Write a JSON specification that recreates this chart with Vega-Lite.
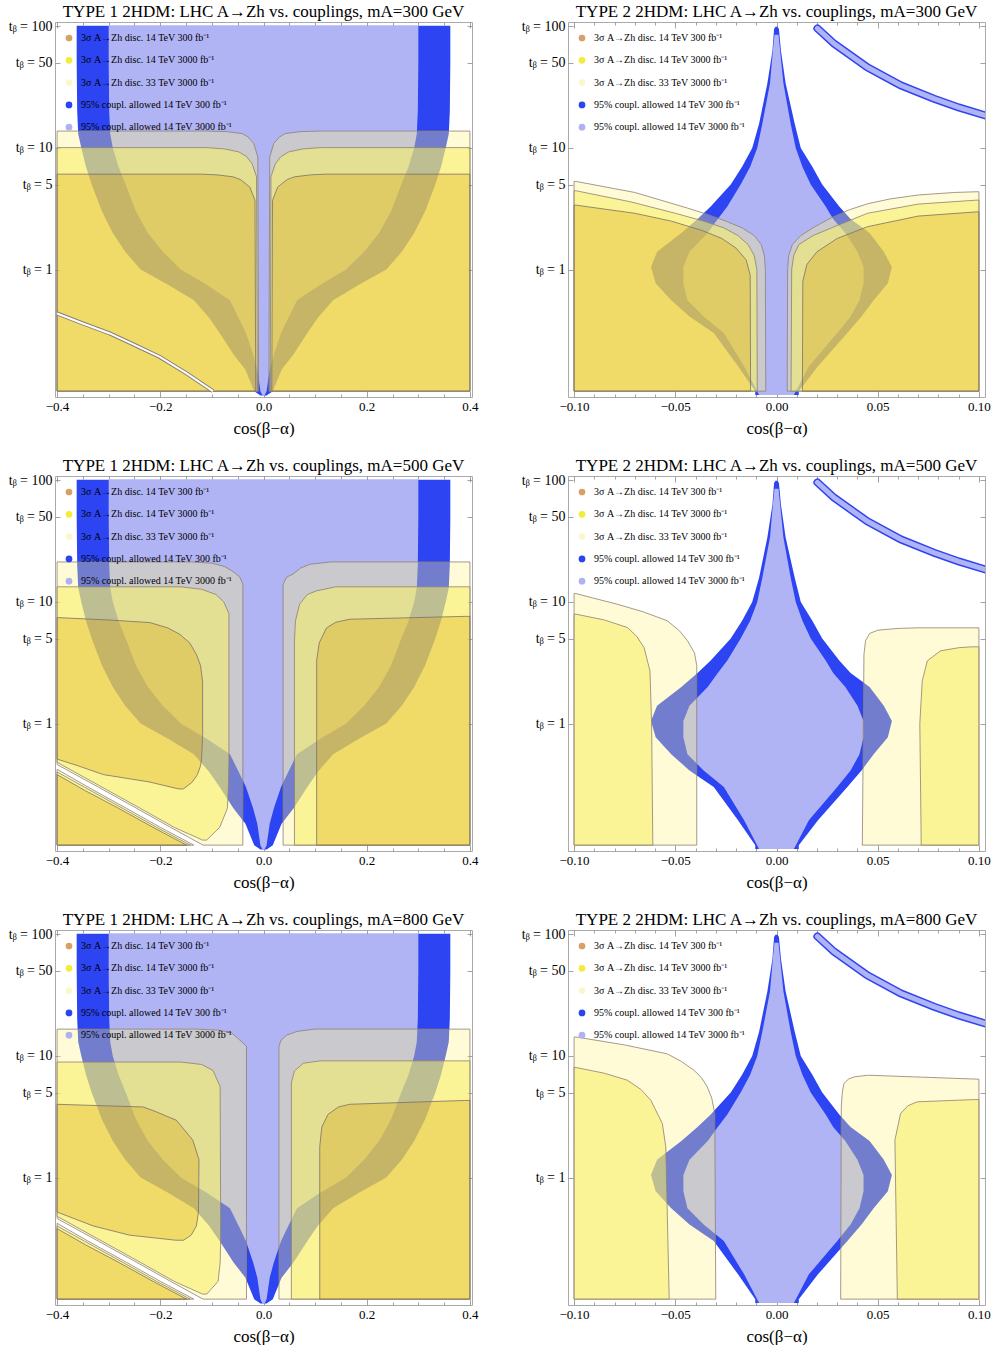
{
  "$schema": "https://vega.github.io/schema/vega-lite/v6.json",
  "background": "white",
  "padding": {"left": 7, "top": 2, "right": 0, "bottom": 0},
  "columns": 2,
  "spacing": {"row": 79, "column": 96},
  "bounds": "flush",
  "resolve": {"scale": {"color": "independent"}, "legend": {"color": "independent"}},
  "datasets": {
    "series": [{"s":"a"},{"s":"b"},{"s":"c"},{"s":"d"},{"s":"e"}],
    "t1c": [
      {"band":"blue","t":0.092,"lo":-0.006,"hi":0.006},
      {"band":"blue","t":0.1,"lo":-0.018,"hi":0.018},
      {"band":"blue","t":0.15,"lo":-0.035,"hi":0.035},
      {"band":"blue","t":0.2,"lo":-0.058,"hi":0.058},
      {"band":"blue","t":0.3,"lo":-0.085,"hi":0.085},
      {"band":"blue","t":0.4,"lo":-0.105,"hi":0.105},
      {"band":"blue","t":0.56,"lo":-0.135,"hi":0.135},
      {"band":"blue","t":0.75,"lo":-0.185,"hi":0.185},
      {"band":"blue","t":1,"lo":-0.238,"hi":0.238},
      {"band":"blue","t":1.4,"lo":-0.268,"hi":0.268},
      {"band":"blue","t":2,"lo":-0.292,"hi":0.292},
      {"band":"blue","t":3,"lo":-0.313,"hi":0.313},
      {"band":"blue","t":5,"lo":-0.333,"hi":0.333},
      {"band":"blue","t":7,"lo":-0.344,"hi":0.344},
      {"band":"blue","t":10,"lo":-0.353,"hi":0.353},
      {"band":"blue","t":13,"lo":-0.359,"hi":0.359},
      {"band":"blue","t":20,"lo":-0.361,"hi":0.361},
      {"band":"blue","t":50,"lo":-0.362,"hi":0.362},
      {"band":"blue","t":101,"lo":-0.362,"hi":0.362},
      {"band":"lav","t":0.092,"lo":-0.002,"hi":0.002},
      {"band":"lav","t":0.1,"lo":-0.006,"hi":0.006},
      {"band":"lav","t":0.15,"lo":-0.012,"hi":0.012},
      {"band":"lav","t":0.2,"lo":-0.02,"hi":0.02},
      {"band":"lav","t":0.3,"lo":-0.034,"hi":0.034},
      {"band":"lav","t":0.4,"lo":-0.048,"hi":0.048},
      {"band":"lav","t":0.56,"lo":-0.065,"hi":0.065},
      {"band":"lav","t":0.75,"lo":-0.11,"hi":0.11},
      {"band":"lav","t":1,"lo":-0.16,"hi":0.16},
      {"band":"lav","t":1.4,"lo":-0.195,"hi":0.195},
      {"band":"lav","t":2,"lo":-0.224,"hi":0.224},
      {"band":"lav","t":3,"lo":-0.247,"hi":0.247},
      {"band":"lav","t":5,"lo":-0.267,"hi":0.267},
      {"band":"lav","t":7,"lo":-0.281,"hi":0.281},
      {"band":"lav","t":10,"lo":-0.292,"hi":0.292},
      {"band":"lav","t":13,"lo":-0.297,"hi":0.297},
      {"band":"lav","t":20,"lo":-0.299,"hi":0.299},
      {"band":"lav","t":50,"lo":-0.3,"hi":0.3},
      {"band":"lav","t":101,"lo":-0.3,"hi":0.3}
    ],
    "t2c": [
      {"band":"blue","t":0.093,"lo":-0.0105,"hi":0.011},
      {"band":"blue","t":0.1,"lo":-0.0105,"hi":0.011},
      {"band":"blue","t":0.16,"lo":-0.019,"hi":0.0205},
      {"band":"blue","t":0.3,"lo":-0.031,"hi":0.035},
      {"band":"blue","t":0.41,"lo":-0.043,"hi":0.042},
      {"band":"blue","t":0.56,"lo":-0.052,"hi":0.048},
      {"band":"blue","t":0.77,"lo":-0.0597,"hi":0.055},
      {"band":"blue","t":1.05,"lo":-0.062,"hi":0.057},
      {"band":"blue","t":1.4,"lo":-0.059,"hi":0.053},
      {"band":"blue","t":2,"lo":-0.047,"hi":0.046},
      {"band":"blue","t":2.6,"lo":-0.039,"hi":0.0366},
      {"band":"blue","t":3.3,"lo":-0.0325,"hi":0.031},
      {"band":"blue","t":5,"lo":-0.0226,"hi":0.0226},
      {"band":"blue","t":7,"lo":-0.017,"hi":0.0177},
      {"band":"blue","t":10,"lo":-0.012,"hi":0.012},
      {"band":"blue","t":15.8,"lo":-0.0086,"hi":0.009},
      {"band":"blue","t":34,"lo":-0.0045,"hi":0.0045},
      {"band":"blue","t":63,"lo":-0.002,"hi":0.0022},
      {"band":"blue","t":95,"lo":-0.0012,"hi":0.0012},
      {"band":"blue","t":99,"lo":-0.0005,"hi":0.0005},
      {"band":"lav","t":0.093,"lo":-0.0086,"hi":0.0086},
      {"band":"lav","t":0.16,"lo":-0.016,"hi":0.016},
      {"band":"lav","t":0.3,"lo":-0.026,"hi":0.03},
      {"band":"lav","t":0.41,"lo":-0.036,"hi":0.0366},
      {"band":"lav","t":0.56,"lo":-0.044,"hi":0.041},
      {"band":"lav","t":0.77,"lo":-0.046,"hi":0.043},
      {"band":"lav","t":1.05,"lo":-0.046,"hi":0.043},
      {"band":"lav","t":1.4,"lo":-0.043,"hi":0.04},
      {"band":"lav","t":2,"lo":-0.034,"hi":0.034},
      {"band":"lav","t":2.6,"lo":-0.029,"hi":0.028},
      {"band":"lav","t":3.3,"lo":-0.0243,"hi":0.0243},
      {"band":"lav","t":5,"lo":-0.0177,"hi":0.0169},
      {"band":"lav","t":7,"lo":-0.013,"hi":0.0128},
      {"band":"lav","t":10,"lo":-0.0095,"hi":0.0095},
      {"band":"lav","t":15.8,"lo":-0.007,"hi":0.007},
      {"band":"lav","t":34,"lo":-0.0032,"hi":0.0034},
      {"band":"lav","t":63,"lo":-0.0018,"hi":0.0018},
      {"band":"lav","t":85,"lo":-0.001,"hi":0.001}
    ],
    "t2arc": [
      {"x":0.0202,"t":96},{"x":0.0284,"t":72},{"x":0.0449,"t":46},{"x":0.0613,"t":32.7},
      {"x":0.0778,"t":25.4},{"x":0.09,"t":21.5},{"x":0.104,"t":18.3}
    ],
    "gap300": [
      {"x":-0.4,"t":0.435},{"x":-0.35,"t":0.36},{"x":-0.298,"t":0.298},{"x":-0.25,"t":0.24},
      {"x":-0.201,"t":0.191},{"x":-0.149,"t":0.14},{"x":-0.098,"t":0.1}
    ],
    "m1a": [
      {"band":"pale","part":"l","t":0.1,"lo":-0.4,"hi":-0.0095},
      {"band":"pale","part":"l","t":8.4,"lo":-0.4,"hi":-0.011},
      {"band":"pale","part":"l","t":10.9,"lo":-0.4,"hi":-0.019},
      {"band":"pale","part":"l","t":12.3,"lo":-0.4,"hi":-0.03},
      {"band":"pale","part":"l","t":13.1,"lo":-0.4,"hi":-0.041},
      {"band":"pale","part":"l","t":13.6,"lo":-0.4,"hi":-0.07},
      {"band":"pale","part":"l","t":13.75,"lo":-0.4,"hi":-0.11},
      {"band":"pale","part":"r","t":0.1,"lo":0.0105,"hi":0.4},
      {"band":"pale","part":"r","t":8.4,"lo":0.012,"hi":0.4},
      {"band":"pale","part":"r","t":10.9,"lo":0.02,"hi":0.4},
      {"band":"pale","part":"r","t":12.3,"lo":0.031,"hi":0.4},
      {"band":"pale","part":"r","t":13.1,"lo":0.042,"hi":0.4},
      {"band":"pale","part":"r","t":13.6,"lo":0.071,"hi":0.4},
      {"band":"pale","part":"r","t":13.75,"lo":0.11,"hi":0.4},
      {"band":"yel","part":"l","t":0.1,"lo":-0.4,"hi":-0.012},
      {"band":"yel","part":"l","t":5.8,"lo":-0.4,"hi":-0.0135},
      {"band":"yel","part":"l","t":7.4,"lo":-0.4,"hi":-0.022},
      {"band":"yel","part":"l","t":8.5,"lo":-0.4,"hi":-0.033},
      {"band":"yel","part":"l","t":9.27,"lo":-0.4,"hi":-0.048},
      {"band":"yel","part":"l","t":9.8,"lo":-0.4,"hi":-0.075},
      {"band":"yel","part":"l","t":10.05,"lo":-0.4,"hi":-0.11},
      {"band":"yel","part":"r","t":0.1,"lo":0.013,"hi":0.4},
      {"band":"yel","part":"r","t":5.8,"lo":0.0145,"hi":0.4},
      {"band":"yel","part":"r","t":7.4,"lo":0.023,"hi":0.4},
      {"band":"yel","part":"r","t":8.5,"lo":0.034,"hi":0.4},
      {"band":"yel","part":"r","t":9.27,"lo":0.049,"hi":0.4},
      {"band":"yel","part":"r","t":9.8,"lo":0.076,"hi":0.4},
      {"band":"yel","part":"r","t":10.05,"lo":0.11,"hi":0.4},
      {"band":"gold","part":"l","t":0.1,"lo":-0.4,"hi":-0.015},
      {"band":"gold","part":"l","t":3.7,"lo":-0.4,"hi":-0.0165},
      {"band":"gold","part":"l","t":4.77,"lo":-0.4,"hi":-0.0266},
      {"band":"gold","part":"l","t":5.5,"lo":-0.4,"hi":-0.045},
      {"band":"gold","part":"l","t":5.78,"lo":-0.4,"hi":-0.059},
      {"band":"gold","part":"l","t":6.0,"lo":-0.4,"hi":-0.09},
      {"band":"gold","part":"l","t":6.08,"lo":-0.4,"hi":-0.12},
      {"band":"gold","part":"r","t":0.1,"lo":0.016,"hi":0.4},
      {"band":"gold","part":"r","t":3.7,"lo":0.0175,"hi":0.4},
      {"band":"gold","part":"r","t":4.77,"lo":0.0276,"hi":0.4},
      {"band":"gold","part":"r","t":5.5,"lo":0.046,"hi":0.4},
      {"band":"gold","part":"r","t":5.78,"lo":0.06,"hi":0.4},
      {"band":"gold","part":"r","t":6.0,"lo":0.091,"hi":0.4},
      {"band":"gold","part":"r","t":6.08,"lo":0.12,"hi":0.4}
    ],
    "m1b": [
      {"band":"pale","part":"l","t":0.1,"lo":-0.117,"hi":-0.04},
      {"band":"pale","part":"l","t":0.14,"lo":-0.18,"hi":-0.04},
      {"band":"pale","part":"l","t":0.2,"lo":-0.245,"hi":-0.04},
      {"band":"pale","part":"l","t":0.3,"lo":-0.32,"hi":-0.04},
      {"band":"pale","part":"l","t":0.46,"lo":-0.4,"hi":-0.04},
      {"band":"pale","part":"l","t":14,"lo":-0.4,"hi":-0.04},
      {"band":"pale","part":"l","t":16,"lo":-0.4,"hi":-0.046},
      {"band":"pale","part":"l","t":17.5,"lo":-0.4,"hi":-0.057},
      {"band":"pale","part":"l","t":19.5,"lo":-0.4,"hi":-0.075},
      {"band":"pale","part":"l","t":20.8,"lo":-0.4,"hi":-0.1},
      {"band":"pale","part":"l","t":21.3,"lo":-0.4,"hi":-0.14},
      {"band":"pale","part":"r","t":0.1,"lo":0.038,"hi":0.4},
      {"band":"pale","part":"r","t":14,"lo":0.038,"hi":0.4},
      {"band":"pale","part":"r","t":16,"lo":0.045,"hi":0.4},
      {"band":"pale","part":"r","t":16.9,"lo":0.057,"hi":0.4},
      {"band":"pale","part":"r","t":19,"lo":0.072,"hi":0.4},
      {"band":"pale","part":"r","t":20.4,"lo":0.09,"hi":0.4},
      {"band":"pale","part":"r","t":21.3,"lo":0.13,"hi":0.4},
      {"band":"pale","part":"b","t":0.1,"lo":-0.4,"hi":-0.135},
      {"band":"pale","part":"b","t":0.14,"lo":-0.4,"hi":-0.2},
      {"band":"pale","part":"b","t":0.2,"lo":-0.4,"hi":-0.265},
      {"band":"pale","part":"b","t":0.3,"lo":-0.4,"hi":-0.34},
      {"band":"pale","part":"b","t":0.42,"lo":-0.4,"hi":-0.4},
      {"band":"yel","part":"l","t":0.11,"lo":-0.118,"hi":-0.11},
      {"band":"yel","part":"l","t":0.14,"lo":-0.173,"hi":-0.085},
      {"band":"yel","part":"l","t":0.2,"lo":-0.238,"hi":-0.07},
      {"band":"yel","part":"l","t":0.3,"lo":-0.313,"hi":-0.068},
      {"band":"yel","part":"l","t":0.48,"lo":-0.4,"hi":-0.067},
      {"band":"yel","part":"l","t":8,"lo":-0.4,"hi":-0.067},
      {"band":"yel","part":"l","t":10,"lo":-0.4,"hi":-0.077},
      {"band":"yel","part":"l","t":11.5,"lo":-0.4,"hi":-0.092},
      {"band":"yel","part":"l","t":12.7,"lo":-0.4,"hi":-0.12},
      {"band":"yel","part":"l","t":13.3,"lo":-0.4,"hi":-0.16},
      {"band":"yel","part":"r","t":0.1,"lo":0.06,"hi":0.4},
      {"band":"yel","part":"r","t":4.8,"lo":0.06,"hi":0.4},
      {"band":"yel","part":"r","t":7,"lo":0.062,"hi":0.4},
      {"band":"yel","part":"r","t":9.6,"lo":0.07,"hi":0.4},
      {"band":"yel","part":"r","t":11.5,"lo":0.085,"hi":0.4},
      {"band":"yel","part":"r","t":12.3,"lo":0.102,"hi":0.4},
      {"band":"yel","part":"r","t":13.3,"lo":0.14,"hi":0.4},
      {"band":"yel","part":"b","t":0.1,"lo":-0.4,"hi":-0.142},
      {"band":"yel","part":"b","t":0.14,"lo":-0.4,"hi":-0.207},
      {"band":"yel","part":"b","t":0.2,"lo":-0.4,"hi":-0.272},
      {"band":"yel","part":"b","t":0.3,"lo":-0.4,"hi":-0.347},
      {"band":"yel","part":"b","t":0.4,"lo":-0.4,"hi":-0.4},
      {"band":"gold","part":"l","t":0.29,"lo":-0.165,"hi":-0.155},
      {"band":"gold","part":"l","t":0.33,"lo":-0.22,"hi":-0.138},
      {"band":"gold","part":"l","t":0.38,"lo":-0.31,"hi":-0.128},
      {"band":"gold","part":"l","t":0.45,"lo":-0.36,"hi":-0.122},
      {"band":"gold","part":"l","t":0.51,"lo":-0.4,"hi":-0.12},
      {"band":"gold","part":"l","t":0.8,"lo":-0.4,"hi":-0.118},
      {"band":"gold","part":"l","t":2.2,"lo":-0.4,"hi":-0.118},
      {"band":"gold","part":"l","t":3,"lo":-0.4,"hi":-0.122},
      {"band":"gold","part":"l","t":3.7,"lo":-0.4,"hi":-0.13},
      {"band":"gold","part":"l","t":4.6,"lo":-0.4,"hi":-0.143},
      {"band":"gold","part":"l","t":5.4,"lo":-0.4,"hi":-0.162},
      {"band":"gold","part":"l","t":6.1,"lo":-0.4,"hi":-0.185},
      {"band":"gold","part":"l","t":6.76,"lo":-0.4,"hi":-0.22},
      {"band":"gold","part":"l","t":7.1,"lo":-0.4,"hi":-0.3},
      {"band":"gold","part":"l","t":7.43,"lo":-0.4,"hi":-0.4},
      {"band":"gold","part":"r","t":0.1,"lo":0.103,"hi":0.4},
      {"band":"gold","part":"r","t":3.3,"lo":0.103,"hi":0.4},
      {"band":"gold","part":"r","t":4.6,"lo":0.108,"hi":0.4},
      {"band":"gold","part":"r","t":6.1,"lo":0.122,"hi":0.4},
      {"band":"gold","part":"r","t":6.8,"lo":0.14,"hi":0.4},
      {"band":"gold","part":"r","t":7.2,"lo":0.167,"hi":0.4},
      {"band":"gold","part":"r","t":7.4,"lo":0.28,"hi":0.4},
      {"band":"gold","part":"r","t":7.6,"lo":0.39,"hi":0.4},
      {"band":"gold","part":"b","t":0.1,"lo":-0.4,"hi":-0.149},
      {"band":"gold","part":"b","t":0.14,"lo":-0.4,"hi":-0.214},
      {"band":"gold","part":"b","t":0.2,"lo":-0.4,"hi":-0.28},
      {"band":"gold","part":"b","t":0.28,"lo":-0.4,"hi":-0.345},
      {"band":"gold","part":"b","t":0.38,"lo":-0.4,"hi":-0.4}
    ],
    "m1c": [
      {"band":"pale","part":"l","t":0.1,"lo":-0.117,"hi":-0.033},
      {"band":"pale","part":"l","t":0.14,"lo":-0.18,"hi":-0.033},
      {"band":"pale","part":"l","t":0.2,"lo":-0.245,"hi":-0.033},
      {"band":"pale","part":"l","t":0.3,"lo":-0.32,"hi":-0.033},
      {"band":"pale","part":"l","t":0.46,"lo":-0.4,"hi":-0.033},
      {"band":"pale","part":"l","t":12,"lo":-0.4,"hi":-0.033},
      {"band":"pale","part":"l","t":13.5,"lo":-0.4,"hi":-0.046},
      {"band":"pale","part":"l","t":15.5,"lo":-0.4,"hi":-0.062},
      {"band":"pale","part":"l","t":16.3,"lo":-0.4,"hi":-0.088},
      {"band":"pale","part":"l","t":16.6,"lo":-0.4,"hi":-0.13},
      {"band":"pale","part":"r","t":0.1,"lo":0.03,"hi":0.4},
      {"band":"pale","part":"r","t":12,"lo":0.03,"hi":0.4},
      {"band":"pale","part":"r","t":13.5,"lo":0.034,"hi":0.4},
      {"band":"pale","part":"r","t":14.8,"lo":0.045,"hi":0.4},
      {"band":"pale","part":"r","t":15.9,"lo":0.065,"hi":0.4},
      {"band":"pale","part":"r","t":16.6,"lo":0.1,"hi":0.4},
      {"band":"pale","part":"b","t":0.1,"lo":-0.4,"hi":-0.135},
      {"band":"pale","part":"b","t":0.14,"lo":-0.4,"hi":-0.2},
      {"band":"pale","part":"b","t":0.2,"lo":-0.4,"hi":-0.265},
      {"band":"pale","part":"b","t":0.3,"lo":-0.4,"hi":-0.34},
      {"band":"pale","part":"b","t":0.42,"lo":-0.4,"hi":-0.4},
      {"band":"yel","part":"l","t":0.11,"lo":-0.118,"hi":-0.11},
      {"band":"yel","part":"l","t":0.14,"lo":-0.173,"hi":-0.088},
      {"band":"yel","part":"l","t":0.2,"lo":-0.238,"hi":-0.084},
      {"band":"yel","part":"l","t":0.3,"lo":-0.313,"hi":-0.083},
      {"band":"yel","part":"l","t":0.48,"lo":-0.4,"hi":-0.083},
      {"band":"yel","part":"l","t":5.6,"lo":-0.4,"hi":-0.084},
      {"band":"yel","part":"l","t":7.6,"lo":-0.4,"hi":-0.098},
      {"band":"yel","part":"l","t":8.5,"lo":-0.4,"hi":-0.12},
      {"band":"yel","part":"l","t":8.9,"lo":-0.4,"hi":-0.16},
      {"band":"yel","part":"r","t":0.1,"lo":0.054,"hi":0.4},
      {"band":"yel","part":"r","t":6,"lo":0.054,"hi":0.4},
      {"band":"yel","part":"r","t":7.5,"lo":0.06,"hi":0.4},
      {"band":"yel","part":"r","t":8.7,"lo":0.077,"hi":0.4},
      {"band":"yel","part":"r","t":9.1,"lo":0.11,"hi":0.4},
      {"band":"yel","part":"b","t":0.1,"lo":-0.4,"hi":-0.142},
      {"band":"yel","part":"b","t":0.14,"lo":-0.4,"hi":-0.207},
      {"band":"yel","part":"b","t":0.2,"lo":-0.4,"hi":-0.272},
      {"band":"yel","part":"b","t":0.3,"lo":-0.4,"hi":-0.347},
      {"band":"yel","part":"b","t":0.4,"lo":-0.4,"hi":-0.4},
      {"band":"gold","part":"l","t":0.305,"lo":-0.17,"hi":-0.155},
      {"band":"gold","part":"l","t":0.336,"lo":-0.26,"hi":-0.14},
      {"band":"gold","part":"l","t":0.4,"lo":-0.33,"hi":-0.13},
      {"band":"gold","part":"l","t":0.52,"lo":-0.4,"hi":-0.126},
      {"band":"gold","part":"l","t":1.4,"lo":-0.4,"hi":-0.125},
      {"band":"gold","part":"l","t":2.03,"lo":-0.4,"hi":-0.137},
      {"band":"gold","part":"l","t":2.96,"lo":-0.4,"hi":-0.169},
      {"band":"gold","part":"l","t":3.5,"lo":-0.4,"hi":-0.21},
      {"band":"gold","part":"l","t":3.8,"lo":-0.4,"hi":-0.233},
      {"band":"gold","part":"l","t":4.0,"lo":-0.4,"hi":-0.4},
      {"band":"gold","part":"r","t":0.1,"lo":0.109,"hi":0.4},
      {"band":"gold","part":"r","t":1.8,"lo":0.109,"hi":0.4},
      {"band":"gold","part":"r","t":2.6,"lo":0.113,"hi":0.4},
      {"band":"gold","part":"r","t":3.3,"lo":0.125,"hi":0.4},
      {"band":"gold","part":"r","t":3.8,"lo":0.145,"hi":0.4},
      {"band":"gold","part":"r","t":4.0,"lo":0.167,"hi":0.4},
      {"band":"gold","part":"r","t":4.15,"lo":0.28,"hi":0.4},
      {"band":"gold","part":"r","t":4.3,"lo":0.39,"hi":0.4},
      {"band":"gold","part":"b","t":0.1,"lo":-0.4,"hi":-0.149},
      {"band":"gold","part":"b","t":0.14,"lo":-0.4,"hi":-0.214},
      {"band":"gold","part":"b","t":0.2,"lo":-0.4,"hi":-0.28},
      {"band":"gold","part":"b","t":0.28,"lo":-0.4,"hi":-0.345},
      {"band":"gold","part":"b","t":0.38,"lo":-0.4,"hi":-0.4}
    ],
    "m2a": [
      {"band":"pale","part":"l","t":0.1,"lo":-0.1,"hi":-0.0053},
      {"band":"pale","part":"l","t":1.0,"lo":-0.1,"hi":-0.0055},
      {"band":"pale","part":"l","t":1.3,"lo":-0.1,"hi":-0.006},
      {"band":"pale","part":"l","t":1.6,"lo":-0.1,"hi":-0.0075},
      {"band":"pale","part":"l","t":1.9,"lo":-0.1,"hi":-0.011},
      {"band":"pale","part":"l","t":2.2,"lo":-0.1,"hi":-0.017},
      {"band":"pale","part":"l","t":2.5,"lo":-0.1,"hi":-0.025},
      {"band":"pale","part":"l","t":2.8,"lo":-0.1,"hi":-0.033},
      {"band":"pale","part":"l","t":3.2,"lo":-0.1,"hi":-0.044},
      {"band":"pale","part":"l","t":4.3,"lo":-0.1,"hi":-0.07},
      {"band":"pale","part":"l","t":5.3,"lo":-0.1,"hi":-0.099},
      {"band":"pale","part":"r","t":0.1,"lo":0.0053,"hi":0.1},
      {"band":"pale","part":"r","t":1.0,"lo":0.0055,"hi":0.1},
      {"band":"pale","part":"r","t":1.3,"lo":0.006,"hi":0.1},
      {"band":"pale","part":"r","t":1.6,"lo":0.0078,"hi":0.1},
      {"band":"pale","part":"r","t":1.9,"lo":0.012,"hi":0.1},
      {"band":"pale","part":"r","t":2.2,"lo":0.018,"hi":0.1},
      {"band":"pale","part":"r","t":2.5,"lo":0.024,"hi":0.1},
      {"band":"pale","part":"r","t":2.71,"lo":0.028,"hi":0.1},
      {"band":"pale","part":"r","t":3.1,"lo":0.036,"hi":0.1},
      {"band":"pale","part":"r","t":3.47,"lo":0.045,"hi":0.1},
      {"band":"pale","part":"r","t":3.8,"lo":0.056,"hi":0.1},
      {"band":"pale","part":"r","t":4.1,"lo":0.07,"hi":0.1},
      {"band":"pale","part":"r","t":4.3,"lo":0.088,"hi":0.1},
      {"band":"pale","part":"r","t":4.36,"lo":0.099,"hi":0.1},
      {"band":"yel","part":"l","t":0.1,"lo":-0.1,"hi":-0.0095},
      {"band":"yel","part":"l","t":1.0,"lo":-0.1,"hi":-0.0097},
      {"band":"yel","part":"l","t":1.3,"lo":-0.1,"hi":-0.011},
      {"band":"yel","part":"l","t":1.6,"lo":-0.1,"hi":-0.014},
      {"band":"yel","part":"l","t":1.9,"lo":-0.1,"hi":-0.019},
      {"band":"yel","part":"l","t":2.2,"lo":-0.1,"hi":-0.026},
      {"band":"yel","part":"l","t":2.5,"lo":-0.1,"hi":-0.036},
      {"band":"yel","part":"l","t":2.9,"lo":-0.1,"hi":-0.05},
      {"band":"yel","part":"l","t":3.6,"lo":-0.1,"hi":-0.072},
      {"band":"yel","part":"l","t":4.44,"lo":-0.1,"hi":-0.099},
      {"band":"yel","part":"r","t":0.1,"lo":0.0072,"hi":0.1},
      {"band":"yel","part":"r","t":1.0,"lo":0.0075,"hi":0.1},
      {"band":"yel","part":"r","t":1.3,"lo":0.0085,"hi":0.1},
      {"band":"yel","part":"r","t":1.6,"lo":0.011,"hi":0.1},
      {"band":"yel","part":"r","t":1.9,"lo":0.018,"hi":0.1},
      {"band":"yel","part":"r","t":2.3,"lo":0.03,"hi":0.1},
      {"band":"yel","part":"r","t":2.9,"lo":0.045,"hi":0.1},
      {"band":"yel","part":"r","t":3.45,"lo":0.07,"hi":0.1},
      {"band":"yel","part":"r","t":3.72,"lo":0.099,"hi":0.1},
      {"band":"gold","part":"l","t":0.1,"lo":-0.1,"hi":-0.0128},
      {"band":"gold","part":"l","t":0.9,"lo":-0.1,"hi":-0.013},
      {"band":"gold","part":"l","t":1.2,"lo":-0.1,"hi":-0.015},
      {"band":"gold","part":"l","t":1.5,"lo":-0.1,"hi":-0.02},
      {"band":"gold","part":"l","t":1.8,"lo":-0.1,"hi":-0.027},
      {"band":"gold","part":"l","t":2.1,"lo":-0.1,"hi":-0.037},
      {"band":"gold","part":"l","t":2.5,"lo":-0.1,"hi":-0.052},
      {"band":"gold","part":"l","t":2.9,"lo":-0.1,"hi":-0.07},
      {"band":"gold","part":"l","t":3.38,"lo":-0.1,"hi":-0.099},
      {"band":"gold","part":"r","t":0.1,"lo":0.0128,"hi":0.1},
      {"band":"gold","part":"r","t":0.8,"lo":0.013,"hi":0.1},
      {"band":"gold","part":"r","t":1.1,"lo":0.015,"hi":0.1},
      {"band":"gold","part":"r","t":1.4,"lo":0.02,"hi":0.1},
      {"band":"gold","part":"r","t":1.8,"lo":0.03,"hi":0.1},
      {"band":"gold","part":"r","t":2.25,"lo":0.045,"hi":0.1},
      {"band":"gold","part":"r","t":2.75,"lo":0.07,"hi":0.1},
      {"band":"gold","part":"r","t":2.98,"lo":0.099,"hi":0.1}
    ],
    "m2b": [
      {"band":"pale","part":"l","t":0.1,"lo":-0.1,"hi":-0.0394},
      {"band":"pale","part":"l","t":3.0,"lo":-0.1,"hi":-0.0394},
      {"band":"pale","part":"l","t":3.8,"lo":-0.1,"hi":-0.0405},
      {"band":"pale","part":"l","t":4.8,"lo":-0.1,"hi":-0.044},
      {"band":"pale","part":"l","t":5.8,"lo":-0.1,"hi":-0.048},
      {"band":"pale","part":"l","t":7.0,"lo":-0.1,"hi":-0.054},
      {"band":"pale","part":"l","t":8.3,"lo":-0.1,"hi":-0.066},
      {"band":"pale","part":"l","t":9.6,"lo":-0.1,"hi":-0.079},
      {"band":"pale","part":"l","t":10.8,"lo":-0.1,"hi":-0.091},
      {"band":"pale","part":"l","t":11.7,"lo":-0.1,"hi":-0.099},
      {"band":"pale","part":"r","t":0.1,"lo":0.0424,"hi":0.1},
      {"band":"pale","part":"r","t":3.7,"lo":0.0432,"hi":0.1},
      {"band":"pale","part":"r","t":4.8,"lo":0.044,"hi":0.1},
      {"band":"pale","part":"r","t":5.5,"lo":0.046,"hi":0.1},
      {"band":"pale","part":"r","t":5.85,"lo":0.05,"hi":0.1},
      {"band":"pale","part":"r","t":6.05,"lo":0.06,"hi":0.1},
      {"band":"pale","part":"r","t":6.12,"lo":0.07,"hi":0.1},
      {"band":"yel","part":"l","t":0.1,"lo":-0.1,"hi":-0.0611},
      {"band":"yel","part":"l","t":1.0,"lo":-0.1,"hi":-0.0617},
      {"band":"yel","part":"l","t":2.7,"lo":-0.1,"hi":-0.0625},
      {"band":"yel","part":"l","t":4.2,"lo":-0.1,"hi":-0.0654},
      {"band":"yel","part":"l","t":5.2,"lo":-0.1,"hi":-0.069},
      {"band":"yel","part":"l","t":6.15,"lo":-0.1,"hi":-0.0736},
      {"band":"yel","part":"l","t":7.1,"lo":-0.1,"hi":-0.085},
      {"band":"yel","part":"l","t":7.92,"lo":-0.1,"hi":-0.099},
      {"band":"yel","part":"r","t":0.1,"lo":0.0715,"hi":0.1},
      {"band":"yel","part":"r","t":1.0,"lo":0.0708,"hi":0.1},
      {"band":"yel","part":"r","t":2.24,"lo":0.072,"hi":0.1},
      {"band":"yel","part":"r","t":3.27,"lo":0.0745,"hi":0.1},
      {"band":"yel","part":"r","t":3.96,"lo":0.081,"hi":0.1},
      {"band":"yel","part":"r","t":4.2,"lo":0.09,"hi":0.1},
      {"band":"yel","part":"r","t":4.27,"lo":0.096,"hi":0.1}
    ],
    "m2c": [
      {"band":"pale","part":"l","t":0.1,"lo":-0.1,"hi":-0.03},
      {"band":"pale","part":"l","t":3.36,"lo":-0.1,"hi":-0.0305},
      {"band":"pale","part":"l","t":4.5,"lo":-0.1,"hi":-0.032},
      {"band":"pale","part":"l","t":5.56,"lo":-0.1,"hi":-0.0342},
      {"band":"pale","part":"l","t":6.6,"lo":-0.1,"hi":-0.037},
      {"band":"pale","part":"l","t":7.6,"lo":-0.1,"hi":-0.0407},
      {"band":"pale","part":"l","t":9.0,"lo":-0.1,"hi":-0.047},
      {"band":"pale","part":"l","t":10.4,"lo":-0.1,"hi":-0.054},
      {"band":"pale","part":"l","t":12.3,"lo":-0.1,"hi":-0.075},
      {"band":"pale","part":"l","t":14.3,"lo":-0.1,"hi":-0.099},
      {"band":"pale","part":"r","t":0.1,"lo":0.0317,"hi":0.1},
      {"band":"pale","part":"r","t":3.81,"lo":0.032,"hi":0.1},
      {"band":"pale","part":"r","t":5.0,"lo":0.0325,"hi":0.1},
      {"band":"pale","part":"r","t":5.93,"lo":0.0333,"hi":0.1},
      {"band":"pale","part":"r","t":6.43,"lo":0.0355,"hi":0.1},
      {"band":"pale","part":"r","t":6.72,"lo":0.0383,"hi":0.068},
      {"band":"pale","part":"r","t":6.93,"lo":0.045,"hi":0.046},
      {"band":"yel","part":"l","t":0.1,"lo":-0.1,"hi":-0.053},
      {"band":"yel","part":"l","t":1.79,"lo":-0.1,"hi":-0.0547},
      {"band":"yel","part":"l","t":2.78,"lo":-0.1,"hi":-0.0564},
      {"band":"yel","part":"l","t":4.32,"lo":-0.1,"hi":-0.0621},
      {"band":"yel","part":"l","t":5.3,"lo":-0.1,"hi":-0.067},
      {"band":"yel","part":"l","t":6.3,"lo":-0.1,"hi":-0.0736},
      {"band":"yel","part":"l","t":7.2,"lo":-0.1,"hi":-0.085},
      {"band":"yel","part":"l","t":8.02,"lo":-0.1,"hi":-0.099},
      {"band":"yel","part":"r","t":0.1,"lo":0.0597,"hi":0.1},
      {"band":"yel","part":"r","t":2.03,"lo":0.0585,"hi":0.1},
      {"band":"yel","part":"r","t":3.36,"lo":0.0613,"hi":0.1},
      {"band":"yel","part":"r","t":3.9,"lo":0.065,"hi":0.1},
      {"band":"yel","part":"r","t":4.19,"lo":0.0695,"hi":0.1},
      {"band":"yel","part":"r","t":4.37,"lo":0.097,"hi":0.1}
    ]
  },
  "concat": [
    {
      "width": 417, "height": 375,
      "title": "TYPE 1 2HDM: LHC A→Zh vs. couplings, mA=300 GeV",
      "resolve": {"axis": {"x": "independent", "y": "independent"}},
      "layer": [
        {"data": {"name": "t1c"}, "transform": [{"filter": "datum.band == 'blue'"}],
         "mark": {"type": "area", "orient": "horizontal", "clip": true, "fill": "#2d44f2"},
         "encoding": {
           "y": {"field": "t", "type": "quantitative", "scale": {"type": "log", "domain": [0.0895, 108.4], "nice": false},
                 "axis": {"orient": "left", "values": [1,5,10,50,100], "labelExpr": "'tᵦ = ' + datum.value", "labelFontSize": 14, "tickSize": -5, "labelPadding": 8, "title": null, "labelOverlap": false, "labelFlush": false}},
           "x": {"field": "lo", "type": "quantitative", "scale": {"domain": [-0.404, 0.404], "nice": false, "zero": false},
                 "axis": {"orient": "bottom", "values": [-0.4,-0.35,-0.3,-0.25,-0.2,-0.15,-0.1,-0.05,0,0.05,0.1,0.15,0.2,0.25,0.3,0.35,0.4],
                          "labelExpr": "abs(datum.value*5-round(datum.value*5))<1e-6 ? format(datum.value,'.1f') : ''",
                          "tickSize": {"condition": {"test": "abs(datum.value*5-round(datum.value*5))<1e-6", "value": -6}, "value": -3},
                          "labelPadding": 9, "title": "cos(β−α)", "titlePadding": 4, "labelFlush": false, "labelOverlap": false}},
           "x2": {"field": "hi"}
         }},
        {"data": {"name": "t1c"}, "transform": [{"filter": "datum.band == 'lav'"}],
         "mark": {"type": "area", "orient": "horizontal", "clip": true, "fill": "#b0b4f4"},
         "encoding": {
           "y": {"field": "t", "type": "quantitative", "axis": {"orient": "right", "values": [1,5,10,50,100], "labels": false, "tickSize": -5, "title": null}},
           "x": {"field": "lo", "type": "quantitative",
                 "axis": {"orient": "top", "values": [-0.4,-0.35,-0.3,-0.25,-0.2,-0.15,-0.1,-0.05,0,0.05,0.1,0.15,0.2,0.25,0.3,0.35,0.4], "labels": false, "title": null,
                          "tickSize": {"condition": {"test": "abs(datum.value*5-round(datum.value*5))<1e-6", "value": -6}, "value": -3}}},
           "x2": {"field": "hi"}
         }},
        {"data": {"name": "m1a"}, "transform": [{"filter": "datum.band == 'pale'"}],
         "mark": {"type": "area", "orient": "horizontal", "clip": true, "fill": "#fcf384", "fillOpacity": 0.333, "stroke": "#8e8070", "strokeWidth": 0.8},
         "encoding": {"y": {"field": "t", "type": "quantitative", "axis": null}, "x": {"field": "lo", "type": "quantitative", "axis": null}, "x2": {"field": "hi"}, "detail": {"field": "part"}}},
        {"data": {"name": "m1a"}, "transform": [{"filter": "datum.band == 'yel'"}],
         "mark": {"type": "area", "orient": "horizontal", "clip": true, "fill": "#f7ef66", "fillOpacity": 0.57, "stroke": "#8e8070", "strokeWidth": 0.8},
         "encoding": {"y": {"field": "t", "type": "quantitative", "axis": null}, "x": {"field": "lo", "type": "quantitative", "axis": null}, "x2": {"field": "hi"}, "detail": {"field": "part"}}},
        {"data": {"name": "m1a"}, "transform": [{"filter": "datum.band == 'gold'"}],
         "mark": {"type": "area", "orient": "horizontal", "clip": true, "fill": "#d9a300", "fillOpacity": 0.3, "stroke": "#7a7068", "strokeWidth": 0.8},
         "encoding": {"y": {"field": "t", "type": "quantitative", "axis": null}, "x": {"field": "lo", "type": "quantitative", "axis": null}, "x2": {"field": "hi"}, "detail": {"field": "part"}}},
        {"data": {"name": "gap300"},
         "mark": {"type": "line", "color": "#8a7e72", "strokeWidth": 4, "clip": true},
         "encoding": {"x": {"field": "x", "type": "quantitative", "axis": null}, "y": {"field": "t", "type": "quantitative", "axis": null}}},
        {"data": {"name": "gap300"},
         "mark": {"type": "line", "color": "#ffffff", "strokeWidth": 2, "clip": true},
         "encoding": {"x": {"field": "x", "type": "quantitative", "axis": null}, "y": {"field": "t", "type": "quantitative", "axis": null}}},
        {"data": {"name": "series"},
         "mark": {"type": "point", "filled": true, "opacity": 0},
         "encoding": {"color": {"field": "s", "type": "nominal",
           "scale": {"domain": ["a","b","c","d","e"], "range": ["#d9a066","#f4ec3a","#fbf7cc","#2b44ee","#aeb2f2"]},
           "legend": {"orient": "none", "legendX": 9, "legendY": 11, "title": null, "symbolType": "circle", "symbolSize": 45,
                      "labelFont": "Liberation Serif", "labelFontSize": 10, "labelColor": "#000000", "rowPadding": 12.3, "labelOffset": 7,
                      "padding": 0, "labelLimit": 400, "symbolOpacity": 1, "symbolStrokeWidth": 0,
                      "labelExpr": "datum.value == 'a' ? '3σ A→Zh disc. 14 TeV 300 fb⁻¹' : datum.value == 'b' ? '3σ A→Zh disc. 14 TeV 3000 fb⁻¹' : datum.value == 'c' ? '3σ A→Zh disc. 33 TeV 3000 fb⁻¹' : datum.value == 'd' ? '95% coupl. allowed 14 TeV 300 fb⁻¹' : '95% coupl. allowed 14 TeV 3000 fb⁻¹'"}}}}
      ]
    },
    {
      "width": 417, "height": 375,
      "title": "TYPE 2 2HDM: LHC A→Zh vs. couplings, mA=300 GeV",
      "resolve": {"axis": {"x": "independent", "y": "independent"}},
      "layer": [
        {"data": {"name": "t2c"}, "transform": [{"filter": "datum.band == 'blue'"}],
         "mark": {"type": "area", "orient": "horizontal", "clip": true, "fill": "#2d44f2"},
         "encoding": {
           "y": {"field": "t", "type": "quantitative", "scale": {"type": "log", "domain": [0.0895, 108.4], "nice": false},
                 "axis": {"orient": "left", "values": [1,5,10,50,100], "labelExpr": "'tᵦ = ' + datum.value", "labelFontSize": 14, "tickSize": -5, "labelPadding": 8, "title": null, "labelOverlap": false, "labelFlush": false}},
           "x": {"field": "lo", "type": "quantitative", "scale": {"domain": [-0.103, 0.103], "nice": false, "zero": false},
                 "axis": {"orient": "bottom", "values": [-0.1,-0.09,-0.08,-0.07,-0.06,-0.05,-0.04,-0.03,-0.02,-0.01,0,0.01,0.02,0.03,0.04,0.05,0.06,0.07,0.08,0.09,0.1],
                          "labelExpr": "abs(datum.value*20-round(datum.value*20))<1e-6 ? format(datum.value,'.2f') : ''",
                          "tickSize": {"condition": {"test": "abs(datum.value*20-round(datum.value*20))<1e-6", "value": -6}, "value": -3},
                          "labelPadding": 9, "title": "cos(β−α)", "titlePadding": 4, "labelFlush": false, "labelOverlap": false}},
           "x2": {"field": "hi"}
         }},
        {"data": {"name": "t2c"}, "transform": [{"filter": "datum.band == 'lav'"}],
         "mark": {"type": "area", "orient": "horizontal", "clip": true, "fill": "#b0b4f4"},
         "encoding": {
           "y": {"field": "t", "type": "quantitative", "axis": {"orient": "right", "values": [1,5,10,50,100], "labels": false, "tickSize": -5, "title": null}},
           "x": {"field": "lo", "type": "quantitative",
                 "axis": {"orient": "top", "values": [-0.1,-0.09,-0.08,-0.07,-0.06,-0.05,-0.04,-0.03,-0.02,-0.01,0,0.01,0.02,0.03,0.04,0.05,0.06,0.07,0.08,0.09,0.1], "labels": false, "title": null,
                          "tickSize": {"condition": {"test": "abs(datum.value*20-round(datum.value*20))<1e-6", "value": -6}, "value": -3}}},
           "x2": {"field": "hi"}
         }},
        {"data": {"name": "t2arc"},
         "mark": {"type": "line", "color": "#2d44f2", "strokeWidth": 8, "strokeCap": "round", "clip": true},
         "encoding": {"x": {"field": "x", "type": "quantitative", "axis": null}, "y": {"field": "t", "type": "quantitative", "axis": null}}},
        {"data": {"name": "t2arc"},
         "mark": {"type": "line", "color": "#b0b4f4", "strokeWidth": 5, "strokeCap": "round", "clip": true},
         "encoding": {"x": {"field": "x", "type": "quantitative", "axis": null}, "y": {"field": "t", "type": "quantitative", "axis": null}}},
        {"data": {"name": "m2a"}, "transform": [{"filter": "datum.band == 'pale'"}],
         "mark": {"type": "area", "orient": "horizontal", "clip": true, "fill": "#fcf384", "fillOpacity": 0.333, "stroke": "#8e8070", "strokeWidth": 0.8},
         "encoding": {"y": {"field": "t", "type": "quantitative", "axis": null}, "x": {"field": "lo", "type": "quantitative", "axis": null}, "x2": {"field": "hi"}, "detail": {"field": "part"}}},
        {"data": {"name": "m2a"}, "transform": [{"filter": "datum.band == 'yel'"}],
         "mark": {"type": "area", "orient": "horizontal", "clip": true, "fill": "#f7ef66", "fillOpacity": 0.57, "stroke": "#8e8070", "strokeWidth": 0.8},
         "encoding": {"y": {"field": "t", "type": "quantitative", "axis": null}, "x": {"field": "lo", "type": "quantitative", "axis": null}, "x2": {"field": "hi"}, "detail": {"field": "part"}}},
        {"data": {"name": "m2a"}, "transform": [{"filter": "datum.band == 'gold'"}],
         "mark": {"type": "area", "orient": "horizontal", "clip": true, "fill": "#d9a300", "fillOpacity": 0.3, "stroke": "#7a7068", "strokeWidth": 0.8},
         "encoding": {"y": {"field": "t", "type": "quantitative", "axis": null}, "x": {"field": "lo", "type": "quantitative", "axis": null}, "x2": {"field": "hi"}, "detail": {"field": "part"}}},
        {"data": {"name": "series"},
         "mark": {"type": "point", "filled": true, "opacity": 0},
         "encoding": {"color": {"field": "s", "type": "nominal",
           "scale": {"domain": ["a","b","c","d","e"], "range": ["#d9a066","#f4ec3a","#fbf7cc","#2b44ee","#aeb2f2"]},
           "legend": {"orient": "none", "legendX": 9, "legendY": 11, "title": null, "symbolType": "circle", "symbolSize": 45,
                      "labelFont": "Liberation Serif", "labelFontSize": 10, "labelColor": "#000000", "rowPadding": 12.3, "labelOffset": 7,
                      "padding": 0, "labelLimit": 400, "symbolOpacity": 1, "symbolStrokeWidth": 0,
                      "labelExpr": "datum.value == 'a' ? '3σ A→Zh disc. 14 TeV 300 fb⁻¹' : datum.value == 'b' ? '3σ A→Zh disc. 14 TeV 3000 fb⁻¹' : datum.value == 'c' ? '3σ A→Zh disc. 33 TeV 3000 fb⁻¹' : datum.value == 'd' ? '95% coupl. allowed 14 TeV 300 fb⁻¹' : '95% coupl. allowed 14 TeV 3000 fb⁻¹'"}}}}
      ]
    },
    {
      "width": 417, "height": 375,
      "title": "TYPE 1 2HDM: LHC A→Zh vs. couplings, mA=500 GeV",
      "resolve": {"axis": {"x": "independent", "y": "independent"}},
      "layer": [
        {"data": {"name": "t1c"}, "transform": [{"filter": "datum.band == 'blue'"}],
         "mark": {"type": "area", "orient": "horizontal", "clip": true, "fill": "#2d44f2"},
         "encoding": {
           "y": {"field": "t", "type": "quantitative", "scale": {"type": "log", "domain": [0.0895, 108.4], "nice": false},
                 "axis": {"orient": "left", "values": [1,5,10,50,100], "labelExpr": "'tᵦ = ' + datum.value", "labelFontSize": 14, "tickSize": -5, "labelPadding": 8, "title": null, "labelOverlap": false, "labelFlush": false}},
           "x": {"field": "lo", "type": "quantitative", "scale": {"domain": [-0.404, 0.404], "nice": false, "zero": false},
                 "axis": {"orient": "bottom", "values": [-0.4,-0.35,-0.3,-0.25,-0.2,-0.15,-0.1,-0.05,0,0.05,0.1,0.15,0.2,0.25,0.3,0.35,0.4],
                          "labelExpr": "abs(datum.value*5-round(datum.value*5))<1e-6 ? format(datum.value,'.1f') : ''",
                          "tickSize": {"condition": {"test": "abs(datum.value*5-round(datum.value*5))<1e-6", "value": -6}, "value": -3},
                          "labelPadding": 9, "title": "cos(β−α)", "titlePadding": 4, "labelFlush": false, "labelOverlap": false}},
           "x2": {"field": "hi"}
         }},
        {"data": {"name": "t1c"}, "transform": [{"filter": "datum.band == 'lav'"}],
         "mark": {"type": "area", "orient": "horizontal", "clip": true, "fill": "#b0b4f4"},
         "encoding": {
           "y": {"field": "t", "type": "quantitative", "axis": {"orient": "right", "values": [1,5,10,50,100], "labels": false, "tickSize": -5, "title": null}},
           "x": {"field": "lo", "type": "quantitative",
                 "axis": {"orient": "top", "values": [-0.4,-0.35,-0.3,-0.25,-0.2,-0.15,-0.1,-0.05,0,0.05,0.1,0.15,0.2,0.25,0.3,0.35,0.4], "labels": false, "title": null,
                          "tickSize": {"condition": {"test": "abs(datum.value*5-round(datum.value*5))<1e-6", "value": -6}, "value": -3}}},
           "x2": {"field": "hi"}
         }},
        {"data": {"name": "m1b"}, "transform": [{"filter": "datum.band == 'pale'"}],
         "mark": {"type": "area", "orient": "horizontal", "clip": true, "fill": "#fcf384", "fillOpacity": 0.333, "stroke": "#8e8070", "strokeWidth": 0.8},
         "encoding": {"y": {"field": "t", "type": "quantitative", "axis": null}, "x": {"field": "lo", "type": "quantitative", "axis": null}, "x2": {"field": "hi"}, "detail": {"field": "part"}}},
        {"data": {"name": "m1b"}, "transform": [{"filter": "datum.band == 'yel'"}],
         "mark": {"type": "area", "orient": "horizontal", "clip": true, "fill": "#f7ef66", "fillOpacity": 0.57, "stroke": "#8e8070", "strokeWidth": 0.8},
         "encoding": {"y": {"field": "t", "type": "quantitative", "axis": null}, "x": {"field": "lo", "type": "quantitative", "axis": null}, "x2": {"field": "hi"}, "detail": {"field": "part"}}},
        {"data": {"name": "m1b"}, "transform": [{"filter": "datum.band == 'gold'"}],
         "mark": {"type": "area", "orient": "horizontal", "clip": true, "fill": "#d9a300", "fillOpacity": 0.3, "stroke": "#7a7068", "strokeWidth": 0.8},
         "encoding": {"y": {"field": "t", "type": "quantitative", "axis": null}, "x": {"field": "lo", "type": "quantitative", "axis": null}, "x2": {"field": "hi"}, "detail": {"field": "part"}}},
        {"data": {"name": "series"},
         "mark": {"type": "point", "filled": true, "opacity": 0},
         "encoding": {"color": {"field": "s", "type": "nominal",
           "scale": {"domain": ["a","b","c","d","e"], "range": ["#d9a066","#f4ec3a","#fbf7cc","#2b44ee","#aeb2f2"]},
           "legend": {"orient": "none", "legendX": 9, "legendY": 11, "title": null, "symbolType": "circle", "symbolSize": 45,
                      "labelFont": "Liberation Serif", "labelFontSize": 10, "labelColor": "#000000", "rowPadding": 12.3, "labelOffset": 7,
                      "padding": 0, "labelLimit": 400, "symbolOpacity": 1, "symbolStrokeWidth": 0,
                      "labelExpr": "datum.value == 'a' ? '3σ A→Zh disc. 14 TeV 300 fb⁻¹' : datum.value == 'b' ? '3σ A→Zh disc. 14 TeV 3000 fb⁻¹' : datum.value == 'c' ? '3σ A→Zh disc. 33 TeV 3000 fb⁻¹' : datum.value == 'd' ? '95% coupl. allowed 14 TeV 300 fb⁻¹' : '95% coupl. allowed 14 TeV 3000 fb⁻¹'"}}}}
      ]
    },
    {
      "width": 417, "height": 375,
      "title": "TYPE 2 2HDM: LHC A→Zh vs. couplings, mA=500 GeV",
      "resolve": {"axis": {"x": "independent", "y": "independent"}},
      "layer": [
        {"data": {"name": "t2c"}, "transform": [{"filter": "datum.band == 'blue'"}],
         "mark": {"type": "area", "orient": "horizontal", "clip": true, "fill": "#2d44f2"},
         "encoding": {
           "y": {"field": "t", "type": "quantitative", "scale": {"type": "log", "domain": [0.0895, 108.4], "nice": false},
                 "axis": {"orient": "left", "values": [1,5,10,50,100], "labelExpr": "'tᵦ = ' + datum.value", "labelFontSize": 14, "tickSize": -5, "labelPadding": 8, "title": null, "labelOverlap": false, "labelFlush": false}},
           "x": {"field": "lo", "type": "quantitative", "scale": {"domain": [-0.103, 0.103], "nice": false, "zero": false},
                 "axis": {"orient": "bottom", "values": [-0.1,-0.09,-0.08,-0.07,-0.06,-0.05,-0.04,-0.03,-0.02,-0.01,0,0.01,0.02,0.03,0.04,0.05,0.06,0.07,0.08,0.09,0.1],
                          "labelExpr": "abs(datum.value*20-round(datum.value*20))<1e-6 ? format(datum.value,'.2f') : ''",
                          "tickSize": {"condition": {"test": "abs(datum.value*20-round(datum.value*20))<1e-6", "value": -6}, "value": -3},
                          "labelPadding": 9, "title": "cos(β−α)", "titlePadding": 4, "labelFlush": false, "labelOverlap": false}},
           "x2": {"field": "hi"}
         }},
        {"data": {"name": "t2c"}, "transform": [{"filter": "datum.band == 'lav'"}],
         "mark": {"type": "area", "orient": "horizontal", "clip": true, "fill": "#b0b4f4"},
         "encoding": {
           "y": {"field": "t", "type": "quantitative", "axis": {"orient": "right", "values": [1,5,10,50,100], "labels": false, "tickSize": -5, "title": null}},
           "x": {"field": "lo", "type": "quantitative",
                 "axis": {"orient": "top", "values": [-0.1,-0.09,-0.08,-0.07,-0.06,-0.05,-0.04,-0.03,-0.02,-0.01,0,0.01,0.02,0.03,0.04,0.05,0.06,0.07,0.08,0.09,0.1], "labels": false, "title": null,
                          "tickSize": {"condition": {"test": "abs(datum.value*20-round(datum.value*20))<1e-6", "value": -6}, "value": -3}}},
           "x2": {"field": "hi"}
         }},
        {"data": {"name": "t2arc"},
         "mark": {"type": "line", "color": "#2d44f2", "strokeWidth": 8, "strokeCap": "round", "clip": true},
         "encoding": {"x": {"field": "x", "type": "quantitative", "axis": null}, "y": {"field": "t", "type": "quantitative", "axis": null}}},
        {"data": {"name": "t2arc"},
         "mark": {"type": "line", "color": "#b0b4f4", "strokeWidth": 5, "strokeCap": "round", "clip": true},
         "encoding": {"x": {"field": "x", "type": "quantitative", "axis": null}, "y": {"field": "t", "type": "quantitative", "axis": null}}},
        {"data": {"name": "m2b"}, "transform": [{"filter": "datum.band == 'pale'"}],
         "mark": {"type": "area", "orient": "horizontal", "clip": true, "fill": "#fcf384", "fillOpacity": 0.333, "stroke": "#8e8070", "strokeWidth": 0.8},
         "encoding": {"y": {"field": "t", "type": "quantitative", "axis": null}, "x": {"field": "lo", "type": "quantitative", "axis": null}, "x2": {"field": "hi"}, "detail": {"field": "part"}}},
        {"data": {"name": "m2b"}, "transform": [{"filter": "datum.band == 'yel'"}],
         "mark": {"type": "area", "orient": "horizontal", "clip": true, "fill": "#f7ef66", "fillOpacity": 0.57, "stroke": "#8e8070", "strokeWidth": 0.8},
         "encoding": {"y": {"field": "t", "type": "quantitative", "axis": null}, "x": {"field": "lo", "type": "quantitative", "axis": null}, "x2": {"field": "hi"}, "detail": {"field": "part"}}},
        {"data": {"name": "series"},
         "mark": {"type": "point", "filled": true, "opacity": 0},
         "encoding": {"color": {"field": "s", "type": "nominal",
           "scale": {"domain": ["a","b","c","d","e"], "range": ["#d9a066","#f4ec3a","#fbf7cc","#2b44ee","#aeb2f2"]},
           "legend": {"orient": "none", "legendX": 9, "legendY": 11, "title": null, "symbolType": "circle", "symbolSize": 45,
                      "labelFont": "Liberation Serif", "labelFontSize": 10, "labelColor": "#000000", "rowPadding": 12.3, "labelOffset": 7,
                      "padding": 0, "labelLimit": 400, "symbolOpacity": 1, "symbolStrokeWidth": 0,
                      "labelExpr": "datum.value == 'a' ? '3σ A→Zh disc. 14 TeV 300 fb⁻¹' : datum.value == 'b' ? '3σ A→Zh disc. 14 TeV 3000 fb⁻¹' : datum.value == 'c' ? '3σ A→Zh disc. 33 TeV 3000 fb⁻¹' : datum.value == 'd' ? '95% coupl. allowed 14 TeV 300 fb⁻¹' : '95% coupl. allowed 14 TeV 3000 fb⁻¹'"}}}}
      ]
    },
    {
      "width": 417, "height": 375,
      "title": "TYPE 1 2HDM: LHC A→Zh vs. couplings, mA=800 GeV",
      "resolve": {"axis": {"x": "independent", "y": "independent"}},
      "layer": [
        {"data": {"name": "t1c"}, "transform": [{"filter": "datum.band == 'blue'"}],
         "mark": {"type": "area", "orient": "horizontal", "clip": true, "fill": "#2d44f2"},
         "encoding": {
           "y": {"field": "t", "type": "quantitative", "scale": {"type": "log", "domain": [0.0895, 108.4], "nice": false},
                 "axis": {"orient": "left", "values": [1,5,10,50,100], "labelExpr": "'tᵦ = ' + datum.value", "labelFontSize": 14, "tickSize": -5, "labelPadding": 8, "title": null, "labelOverlap": false, "labelFlush": false}},
           "x": {"field": "lo", "type": "quantitative", "scale": {"domain": [-0.404, 0.404], "nice": false, "zero": false},
                 "axis": {"orient": "bottom", "values": [-0.4,-0.35,-0.3,-0.25,-0.2,-0.15,-0.1,-0.05,0,0.05,0.1,0.15,0.2,0.25,0.3,0.35,0.4],
                          "labelExpr": "abs(datum.value*5-round(datum.value*5))<1e-6 ? format(datum.value,'.1f') : ''",
                          "tickSize": {"condition": {"test": "abs(datum.value*5-round(datum.value*5))<1e-6", "value": -6}, "value": -3},
                          "labelPadding": 9, "title": "cos(β−α)", "titlePadding": 4, "labelFlush": false, "labelOverlap": false}},
           "x2": {"field": "hi"}
         }},
        {"data": {"name": "t1c"}, "transform": [{"filter": "datum.band == 'lav'"}],
         "mark": {"type": "area", "orient": "horizontal", "clip": true, "fill": "#b0b4f4"},
         "encoding": {
           "y": {"field": "t", "type": "quantitative", "axis": {"orient": "right", "values": [1,5,10,50,100], "labels": false, "tickSize": -5, "title": null}},
           "x": {"field": "lo", "type": "quantitative",
                 "axis": {"orient": "top", "values": [-0.4,-0.35,-0.3,-0.25,-0.2,-0.15,-0.1,-0.05,0,0.05,0.1,0.15,0.2,0.25,0.3,0.35,0.4], "labels": false, "title": null,
                          "tickSize": {"condition": {"test": "abs(datum.value*5-round(datum.value*5))<1e-6", "value": -6}, "value": -3}}},
           "x2": {"field": "hi"}
         }},
        {"data": {"name": "m1c"}, "transform": [{"filter": "datum.band == 'pale'"}],
         "mark": {"type": "area", "orient": "horizontal", "clip": true, "fill": "#fcf384", "fillOpacity": 0.333, "stroke": "#8e8070", "strokeWidth": 0.8},
         "encoding": {"y": {"field": "t", "type": "quantitative", "axis": null}, "x": {"field": "lo", "type": "quantitative", "axis": null}, "x2": {"field": "hi"}, "detail": {"field": "part"}}},
        {"data": {"name": "m1c"}, "transform": [{"filter": "datum.band == 'yel'"}],
         "mark": {"type": "area", "orient": "horizontal", "clip": true, "fill": "#f7ef66", "fillOpacity": 0.57, "stroke": "#8e8070", "strokeWidth": 0.8},
         "encoding": {"y": {"field": "t", "type": "quantitative", "axis": null}, "x": {"field": "lo", "type": "quantitative", "axis": null}, "x2": {"field": "hi"}, "detail": {"field": "part"}}},
        {"data": {"name": "m1c"}, "transform": [{"filter": "datum.band == 'gold'"}],
         "mark": {"type": "area", "orient": "horizontal", "clip": true, "fill": "#d9a300", "fillOpacity": 0.3, "stroke": "#7a7068", "strokeWidth": 0.8},
         "encoding": {"y": {"field": "t", "type": "quantitative", "axis": null}, "x": {"field": "lo", "type": "quantitative", "axis": null}, "x2": {"field": "hi"}, "detail": {"field": "part"}}},
        {"data": {"name": "series"},
         "mark": {"type": "point", "filled": true, "opacity": 0},
         "encoding": {"color": {"field": "s", "type": "nominal",
           "scale": {"domain": ["a","b","c","d","e"], "range": ["#d9a066","#f4ec3a","#fbf7cc","#2b44ee","#aeb2f2"]},
           "legend": {"orient": "none", "legendX": 9, "legendY": 11, "title": null, "symbolType": "circle", "symbolSize": 45,
                      "labelFont": "Liberation Serif", "labelFontSize": 10, "labelColor": "#000000", "rowPadding": 12.3, "labelOffset": 7,
                      "padding": 0, "labelLimit": 400, "symbolOpacity": 1, "symbolStrokeWidth": 0,
                      "labelExpr": "datum.value == 'a' ? '3σ A→Zh disc. 14 TeV 300 fb⁻¹' : datum.value == 'b' ? '3σ A→Zh disc. 14 TeV 3000 fb⁻¹' : datum.value == 'c' ? '3σ A→Zh disc. 33 TeV 3000 fb⁻¹' : datum.value == 'd' ? '95% coupl. allowed 14 TeV 300 fb⁻¹' : '95% coupl. allowed 14 TeV 3000 fb⁻¹'"}}}}
      ]
    },
    {
      "width": 417, "height": 375,
      "title": "TYPE 2 2HDM: LHC A→Zh vs. couplings, mA=800 GeV",
      "resolve": {"axis": {"x": "independent", "y": "independent"}},
      "layer": [
        {"data": {"name": "t2c"}, "transform": [{"filter": "datum.band == 'blue'"}],
         "mark": {"type": "area", "orient": "horizontal", "clip": true, "fill": "#2d44f2"},
         "encoding": {
           "y": {"field": "t", "type": "quantitative", "scale": {"type": "log", "domain": [0.0895, 108.4], "nice": false},
                 "axis": {"orient": "left", "values": [1,5,10,50,100], "labelExpr": "'tᵦ = ' + datum.value", "labelFontSize": 14, "tickSize": -5, "labelPadding": 8, "title": null, "labelOverlap": false, "labelFlush": false}},
           "x": {"field": "lo", "type": "quantitative", "scale": {"domain": [-0.103, 0.103], "nice": false, "zero": false},
                 "axis": {"orient": "bottom", "values": [-0.1,-0.09,-0.08,-0.07,-0.06,-0.05,-0.04,-0.03,-0.02,-0.01,0,0.01,0.02,0.03,0.04,0.05,0.06,0.07,0.08,0.09,0.1],
                          "labelExpr": "abs(datum.value*20-round(datum.value*20))<1e-6 ? format(datum.value,'.2f') : ''",
                          "tickSize": {"condition": {"test": "abs(datum.value*20-round(datum.value*20))<1e-6", "value": -6}, "value": -3},
                          "labelPadding": 9, "title": "cos(β−α)", "titlePadding": 4, "labelFlush": false, "labelOverlap": false}},
           "x2": {"field": "hi"}
         }},
        {"data": {"name": "t2c"}, "transform": [{"filter": "datum.band == 'lav'"}],
         "mark": {"type": "area", "orient": "horizontal", "clip": true, "fill": "#b0b4f4"},
         "encoding": {
           "y": {"field": "t", "type": "quantitative", "axis": {"orient": "right", "values": [1,5,10,50,100], "labels": false, "tickSize": -5, "title": null}},
           "x": {"field": "lo", "type": "quantitative",
                 "axis": {"orient": "top", "values": [-0.1,-0.09,-0.08,-0.07,-0.06,-0.05,-0.04,-0.03,-0.02,-0.01,0,0.01,0.02,0.03,0.04,0.05,0.06,0.07,0.08,0.09,0.1], "labels": false, "title": null,
                          "tickSize": {"condition": {"test": "abs(datum.value*20-round(datum.value*20))<1e-6", "value": -6}, "value": -3}}},
           "x2": {"field": "hi"}
         }},
        {"data": {"name": "t2arc"},
         "mark": {"type": "line", "color": "#2d44f2", "strokeWidth": 8, "strokeCap": "round", "clip": true},
         "encoding": {"x": {"field": "x", "type": "quantitative", "axis": null}, "y": {"field": "t", "type": "quantitative", "axis": null}}},
        {"data": {"name": "t2arc"},
         "mark": {"type": "line", "color": "#b0b4f4", "strokeWidth": 5, "strokeCap": "round", "clip": true},
         "encoding": {"x": {"field": "x", "type": "quantitative", "axis": null}, "y": {"field": "t", "type": "quantitative", "axis": null}}},
        {"data": {"name": "m2c"}, "transform": [{"filter": "datum.band == 'pale'"}],
         "mark": {"type": "area", "orient": "horizontal", "clip": true, "fill": "#fcf384", "fillOpacity": 0.333, "stroke": "#8e8070", "strokeWidth": 0.8},
         "encoding": {"y": {"field": "t", "type": "quantitative", "axis": null}, "x": {"field": "lo", "type": "quantitative", "axis": null}, "x2": {"field": "hi"}, "detail": {"field": "part"}}},
        {"data": {"name": "m2c"}, "transform": [{"filter": "datum.band == 'yel'"}],
         "mark": {"type": "area", "orient": "horizontal", "clip": true, "fill": "#f7ef66", "fillOpacity": 0.57, "stroke": "#8e8070", "strokeWidth": 0.8},
         "encoding": {"y": {"field": "t", "type": "quantitative", "axis": null}, "x": {"field": "lo", "type": "quantitative", "axis": null}, "x2": {"field": "hi"}, "detail": {"field": "part"}}},
        {"data": {"name": "series"},
         "mark": {"type": "point", "filled": true, "opacity": 0},
         "encoding": {"color": {"field": "s", "type": "nominal",
           "scale": {"domain": ["a","b","c","d","e"], "range": ["#d9a066","#f4ec3a","#fbf7cc","#2b44ee","#aeb2f2"]},
           "legend": {"orient": "none", "legendX": 9, "legendY": 11, "title": null, "symbolType": "circle", "symbolSize": 45,
                      "labelFont": "Liberation Serif", "labelFontSize": 10, "labelColor": "#000000", "rowPadding": 12.3, "labelOffset": 7,
                      "padding": 0, "labelLimit": 400, "symbolOpacity": 1, "symbolStrokeWidth": 0,
                      "labelExpr": "datum.value == 'a' ? '3σ A→Zh disc. 14 TeV 300 fb⁻¹' : datum.value == 'b' ? '3σ A→Zh disc. 14 TeV 3000 fb⁻¹' : datum.value == 'c' ? '3σ A→Zh disc. 33 TeV 3000 fb⁻¹' : datum.value == 'd' ? '95% coupl. allowed 14 TeV 300 fb⁻¹' : '95% coupl. allowed 14 TeV 3000 fb⁻¹'"}}}}
      ]
    }
  ],
  "config": {
    "font": "Liberation Serif",
    "view": {"stroke": "#aaaaaa", "strokeWidth": 1},
    "axis": {"domain": false, "grid": false, "tickColor": "#8c8c8c", "tickWidth": 0.8,
             "labelFont": "Liberation Serif", "labelFontSize": 13, "labelColor": "#000000",
             "titleFont": "Liberation Serif", "titleFontSize": 17, "titleFontWeight": "normal", "titleColor": "#000000"},
    "title": {"font": "Liberation Serif", "fontSize": 17, "fontWeight": "normal", "offset": -2, "color": "#000000"}
  }
}
